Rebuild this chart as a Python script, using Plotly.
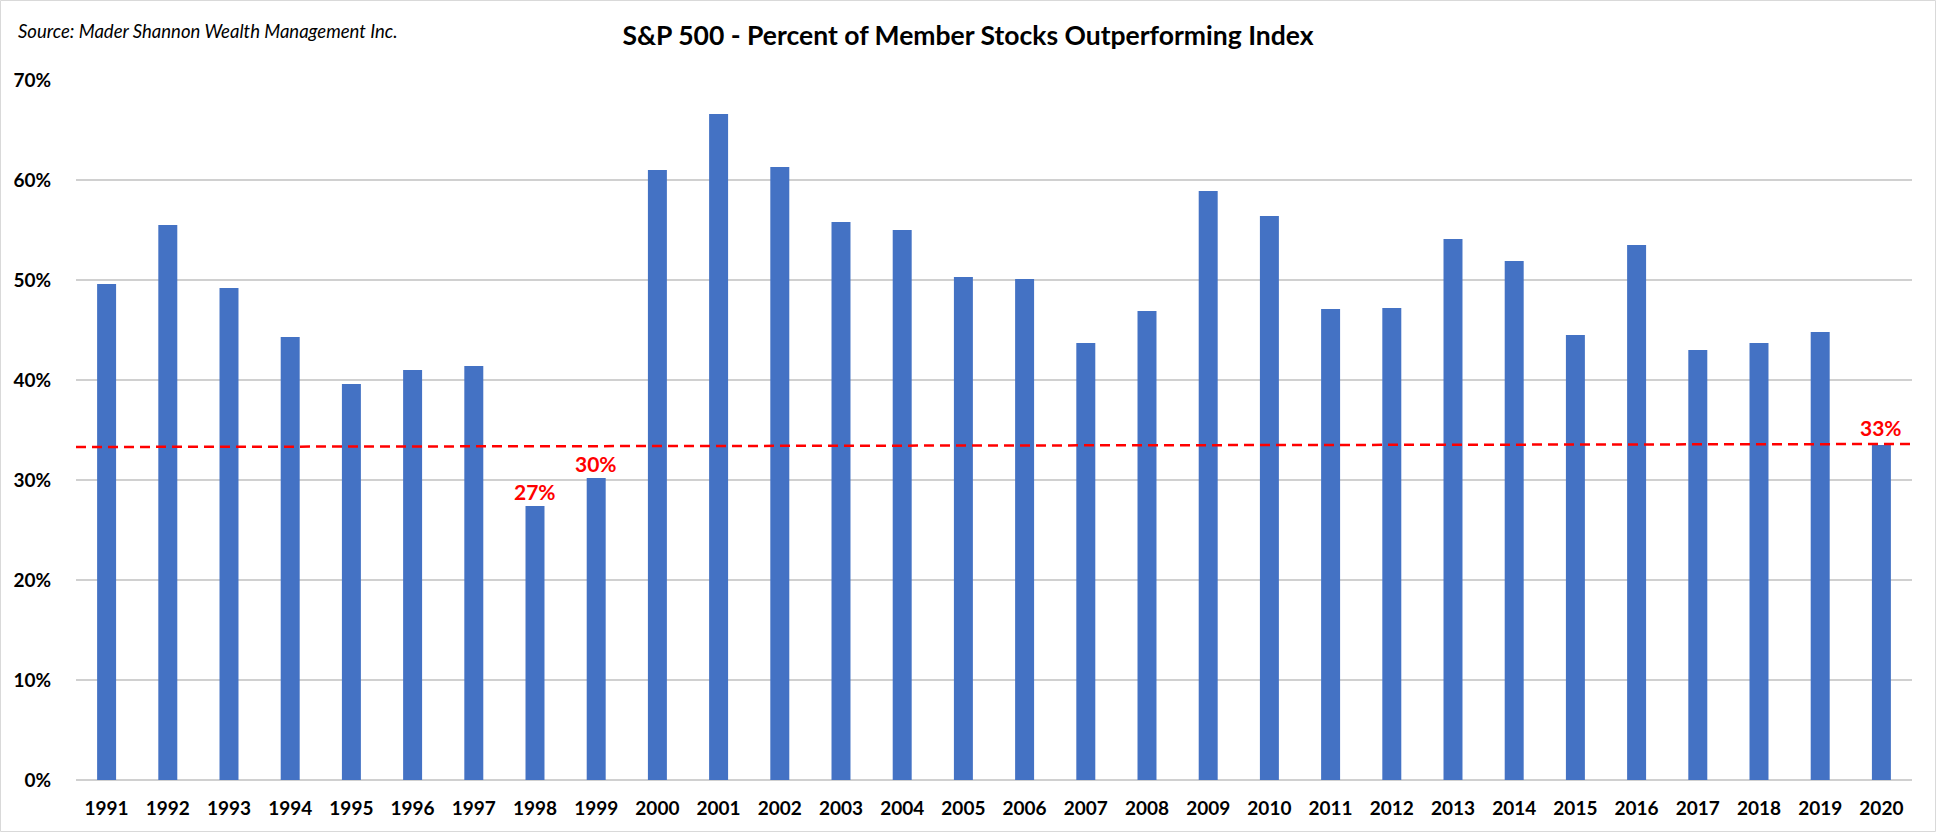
import plotly.graph_objects as go

# ---- data ----
years = [str(y) for y in range(1991, 2021)]
pct_outperforming = [49.6, 55.5, 49.2, 44.3, 39.6, 41.0, 41.4, 27.4, 30.2, 61.0,
                     66.6, 61.3, 55.8, 55.0, 50.3, 50.1, 43.7, 46.9, 58.9, 56.4,
                     47.1, 47.2, 54.1, 51.9, 44.5, 53.5, 43.0, 43.7, 44.8, 33.5]
ref_line_x = [0, 1]
ref_line_y = [33.3, 33.6]
label_years = ["1998", "1999"]
label_values = [27.4, 30.2]
label_texts = ["27%", "30%"]
last_label = "33%"
y_ticks = [0, 10, 20, 30, 40, 50, 60, 70]
y_ticktext = [f"{v}%" for v in y_ticks]

title = "S&P 500 - Percent of Member Stocks Outperforming Index"
source = "Source: Mader Shannon Wealth Management Inc."

W, H = 1936, 833
L, R, T, B = 76, 24, 80, 53
pw, ph = W - L - R, H - T - B

fig = go.Figure()
fig.add_trace(go.Bar(
    x=years, y=pct_outperforming, marker=dict(color="#4472C4", line=dict(width=0)),
    width=0.31, hoverinfo="x+y",
))
fig.add_trace(go.Scatter(
    x=ref_line_x, y=ref_line_y, xaxis="x2", mode="lines",
    line=dict(color="#FF0000", width=2.5, dash="10px,6px"), hoverinfo="skip",
))

annotations = []
for yr, v, t in zip(label_years, label_values, label_texts):
    annotations.append(dict(
        x=years.index(yr), y=v, xref="x", yref="y", text=t, showarrow=False,
        yanchor="bottom", yshift=0,
        font=dict(family="Lato", size=21, color="#FF0000", weight="bold"),
    ))
annotations.append(dict(
    x=len(years) - 1, y=ref_line_y[-1], xref="x", yref="y", text=last_label, showarrow=False,
    yanchor="bottom", yshift=2,
    font=dict(family="Lato", size=21, color="#FF0000", weight="bold"),
))
annotations.append(dict(
    x=(16 - L) / pw, y=(T + ph - 31) / ph, xref="paper", yref="paper",
    text=f"<i>{source}</i>", showarrow=False, xanchor="left", yanchor="middle",
    font=dict(family="Lato", size=18.5, color="#000000"),
))

shapes = [dict(
    type="rect", xref="paper", yref="paper",
    x0=(0.5 - L) / pw, x1=(W - 0.5 - L) / pw,
    y0=(T + ph - (H - 1.5)) / ph, y1=(T + ph - 0.5) / ph,
    line=dict(color="#D9D9D9", width=1), fillcolor="rgba(0,0,0,0)", layer="below",
)]

fig.update_layout(
    width=W, height=H,
    margin=dict(l=L, r=R, t=T, b=B, pad=0),
    paper_bgcolor="white", plot_bgcolor="white",
    showlegend=False,
    title=dict(text=f"<b>{title}</b>", x=0.5, xanchor="center", y=1 - 36 / H, yanchor="middle",
               font=dict(family="Lato", size=26.5, color="#000000")),
    xaxis=dict(type="category", range=[-0.5, len(years) - 0.5],
               showgrid=False, zeroline=False, showline=False,
               ticks="outside", ticklen=11, tickcolor="rgba(0,0,0,0)", tickangle=0,
               tickfont=dict(family="Lato", size=19, color="#000000", weight="bold"),
               fixedrange=True),
    xaxis2=dict(overlaying="x", range=[0, 1], visible=False, fixedrange=True),
    yaxis=dict(range=[0, 70], tickvals=y_ticks, ticktext=y_ticktext,
               showgrid=True, gridcolor="#D0D0D0", gridwidth=1.5,
               zeroline=True, zerolinecolor="#D0D0D0", zerolinewidth=1.5,
               showline=False, ticks="outside", ticklen=20, tickcolor="rgba(0,0,0,0)",
               tickfont=dict(family="Lato", size=19, color="#000000", weight="bold"),
               fixedrange=True),
    annotations=annotations,
    shapes=shapes,
)

fig.write_html("out.html", config={"displayModeBar": False},
               post_script="document.body.style.margin='0';document.body.style.overflow='hidden';")
